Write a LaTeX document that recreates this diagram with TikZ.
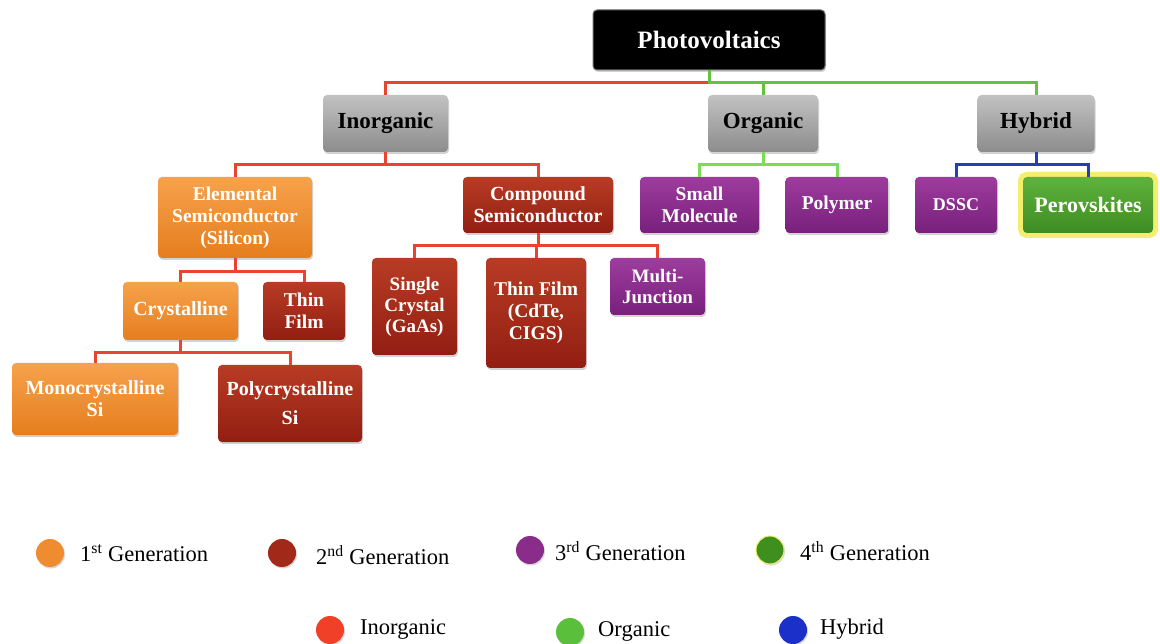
\documentclass[tikz,border=0pt]{standalone}
\usepackage{fontspec}
\setmainfont{Liberation Serif}
\usetikzlibrary{shadows}

\definecolor{pvgray}{HTML}{6A6A6A}
\definecolor{lvltop}{HTML}{C2C2C2}
\definecolor{lvlbot}{HTML}{8C8C8C}
\definecolor{onetop}{HTML}{F6A24C}
\definecolor{onebot}{HTML}{E57E1E}
\definecolor{twotop}{HTML}{B83C24}
\definecolor{twobot}{HTML}{921E12}
\definecolor{threetop}{HTML}{9E3C9E}
\definecolor{threebot}{HTML}{78207C}
\definecolor{fourtop}{HTML}{5EB23C}
\definecolor{fourbot}{HTML}{3E8C22}
\definecolor{glowyellow}{HTML}{F4EE6E}
\definecolor{wirered}{HTML}{EA4330}
\definecolor{wiregreen}{HTML}{62C43E}
\definecolor{wirelime}{HTML}{7CDC55}
\definecolor{wireblue}{HTML}{2140B5}
\definecolor{dotone}{HTML}{F08C30}
\definecolor{dottwo}{HTML}{A2281A}
\definecolor{dotthree}{HTML}{8A2C8A}
\definecolor{dotfour}{HTML}{3F8F1F}
\definecolor{dotred}{HTML}{F04028}
\definecolor{dotgreen}{HTML}{5ABF3A}
\definecolor{dotblue}{HTML}{1A30C8}

\begin{document}
\begin{tikzpicture}[x=1pt, y=-1pt,
    every node/.style={inner sep=0pt, rectangle, text centered, align=center},
    field/.style={rounded corners=4pt, text=white,
        font=\fontsize{19.5}{22}\selectfont\bfseries,
        drop shadow={shadow xshift=1pt, shadow yshift=-2pt, opacity=0.35}},
    root/.style={field, fill=black, draw=pvgray, line width=1pt,
        font=\fontsize{25}{28}\selectfont\bfseries},
    level/.style={field, top color=lvltop, bottom color=lvlbot, text=black,
        font=\fontsize{23}{26}\selectfont\bfseries, minimum height=57pt},
    genone/.style={field, top color=onetop, bottom color=onebot},
    gentwo/.style={field, top color=twotop, bottom color=twobot},
    genthree/.style={field, top color=threetop, bottom color=threebot},
    genfour/.style={field, top color=fourtop, bottom color=fourbot},
    wire/.style={line width=3pt},
    dot/.style={circle, minimum size=28pt,
        drop shadow={shadow xshift=1pt, shadow yshift=-1.5pt, opacity=0.3}},
    legend/.style={anchor=west, font=\fontsize{22.5}{26}\selectfont}]

\fill[white] (0,0) rectangle (1160,644);
\useasboundingbox (0,0) rectangle (1160,644);

% tree
\node [root, minimum width=232pt, minimum height=60pt] (pv) at (709,40) {Photovoltaics};

\node [level, minimum width=125pt] (inorg) at (385.5,123.5) {Inorganic};
\node [level, minimum width=110pt] (org) at (763,123.5) {Organic};
\node [level, minimum width=117pt] (hyb) at (1036,123.5) {Hybrid};

\node [genone, minimum width=154pt, minimum height=81pt] (elem) at (235,217.5) {Elemental\\Semiconductor\\(Silicon)};
\node [gentwo, minimum width=150pt, minimum height=56pt, font=\fontsize{20}{22}\selectfont\bfseries] (comp) at (538,205) {Compound\\Semiconductor};
\node [genthree, minimum width=119pt, minimum height=56pt] (smol) at (699.5,205) {Small\\Molecule};
\node [genthree, minimum width=103pt, minimum height=56pt] (poly) at (837,205) {Polymer};
\node [genthree, minimum width=82pt, minimum height=56pt, font=\fontsize{18}{21}\selectfont\bfseries] (dssc) at (956,205) {DSSC};
\node [genfour, minimum width=130pt, minimum height=56pt, font=\fontsize{22}{24}\selectfont\bfseries,
    preaction={draw=glowyellow, line width=10pt}] (perov) at (1088,205) {Perovskites};

\node [genone, minimum width=115pt, minimum height=58pt, font=\fontsize{20}{23}\selectfont\bfseries] (cryst) at (180.5,311) {Crystalline};
\node [gentwo, minimum width=82pt, minimum height=58pt] (thin) at (304,311) {Thin\\Film};
\node [gentwo, minimum width=85pt, minimum height=97pt, font=\fontsize{19}{21}\selectfont\bfseries] (single) at (414.5,306.5) {Single\\Crystal\\(GaAs)};
\node [gentwo, minimum width=100pt, minimum height=110pt] (thinc) at (536,313) {Thin Film\\(CdTe,\\CIGS)};
\node [genthree, minimum width=95pt, minimum height=57pt, font=\fontsize{19}{21}\selectfont\bfseries] (multi) at (657.5,286.5) {Multi-\\Junction};

\node [genone, minimum width=166pt, minimum height=72pt, font=\fontsize{20}{22}\selectfont\bfseries] (mono) at (95,399) {Monocrystalline\\Si};
\node [gentwo, minimum width=144pt, minimum height=77pt, font=\fontsize{20}{22}\selectfont\bfseries] (polyc) at (290,403.5) {Polycrystalline\\[7pt]Si};

% buses
\coordinate (b0) at ([yshift=-12pt]pv.south);
\coordinate (b1) at ([yshift=-12pt]inorg.south);
\coordinate (b2) at ([yshift=-12pt]org.south);
\coordinate (b3) at ([yshift=-12pt]hyb.south);
\coordinate (b4) at ([yshift=-13pt]elem.south);
\coordinate (b5) at ([yshift=-12pt]comp.south);
\coordinate (b6) at ([yshift=-12pt]cryst.south);

\draw [wire, wirered] (b0) -| (inorg.north);
\draw [wire, wiregreen] (pv.south) -- (b0) -| (hyb.north);
\draw [wire, wiregreen] (b0) -| (org.north);

\draw [wire, wirered] (inorg.south) -- (b1) -| (elem.north);
\draw [wire, wirered] (b1) -| (comp.north);
\draw [wire, wirelime] (org.south) -- (b2) -| (smol.north);
\draw [wire, wirelime] (b2) -| (poly.north);
\draw [wire, wireblue] (hyb.south) -- (b3) -| (dssc.north);
\draw [wire, wireblue] (b3) -| (perov.north);

\draw [wire, wirered] (elem.south) -- (b4) -| (cryst.north);
\draw [wire, wirered] (b4) -| (thin.north);
\draw [wire, wirered] (comp.south) -- (b5) -| (single.north);
\draw [wire, wirered] (b5) -| (thinc.north);
\draw [wire, wirered] (b5) -| (multi.north);
\draw [wire, wirered] (cryst.south) -- (b6) -| (mono.north);
\draw [wire, wirered] (b6) -| (polyc.north);

% legend
\node [dot, fill=dotone] (lg1) at (50,553) {};
\node [legend] (lt1) at (80,553) {1\textsuperscript{st} Generation};
\node [dot, fill=dottwo] (lg2) at (282,553) {};
\node [legend] (lt2) at (316,555) {2\textsuperscript{nd} Generation};
\node [dot, fill=dotthree] (lg3) at (530,550) {};
\node [legend] (lt3) at (555,551) {3\textsuperscript{rd} Generation};
\node [dot, fill=dotfour, draw=glowyellow, line width=1pt] (lg4) at (770,550) {};
\node [legend] (lt4) at (800,551) {4\textsuperscript{th} Generation};

\node [dot, fill=dotred] (lg5) at (330,630) {};
\node [legend] (lt5) at (360,629) {Inorganic};
\node [dot, fill=dotgreen] (lg6) at (570,632) {};
\node [legend] (lt6) at (598,631) {Organic};
\node [dot, fill=dotblue] (lg7) at (793,630) {};
\node [legend] (lt7) at (820,629) {Hybrid};

\end{tikzpicture}
\end{document}
